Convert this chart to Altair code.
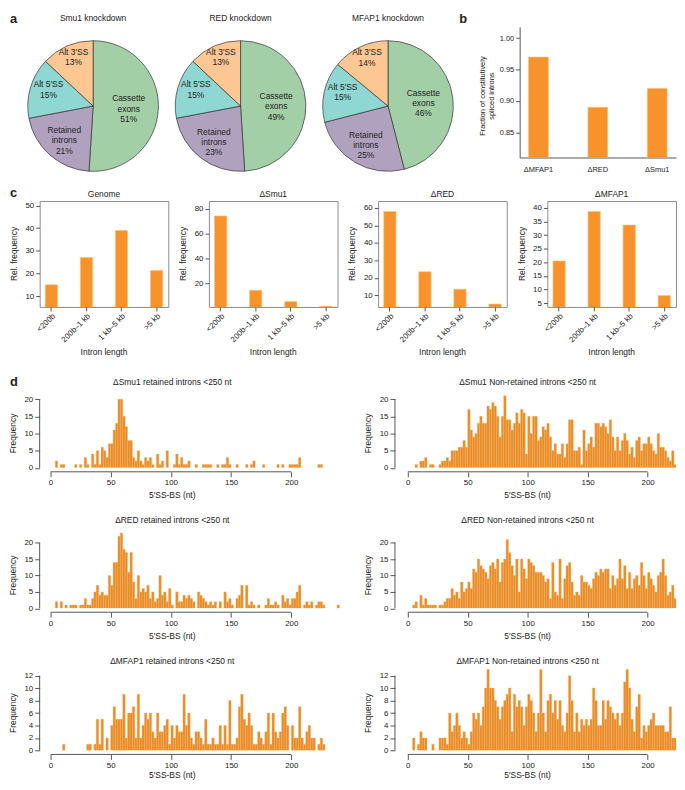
import altair as alt
import pandas as pd

FONT = "Liberation Sans"
BAR = "#F7932A"
BAR_EDGE = "#FBC27E"
HIST = "#E98B27"
HIST_EDGE = "#F4B466"
AX = "#555555"
TXT = "#222222"

# ---------------- panel a: pies ----------------
pie_titles = ["Smu1 knockdown", "RED knockdown", "MFAP1 knockdown"]
pie_cats = ["Cassette exons", "Retained introns", "Alt 5'SS", "Alt 3'SS"]
pie_labels = ["Cassette\nexons", "Retained\nintrons", "Alt 5\u2032SS", "Alt 3\u2032SS"]
pie_vals = [[51, 21, 15, 13], [49, 23, 15, 13], [46, 25, 15, 14]]
pie_colors = ["#A3CFA6", "#B0A2BF", "#8FD7D2", "#FDC794"]
pie_label_r = [36, 44, 47, 50]

# ---------------- panel b ----------------
b_cats = ["\u0394MFAP1", "\u0394RED", "\u0394Smu1"]
b_vals = [0.97, 0.89, 0.92]

# ---------------- panel c ----------------
c_titles = ["Genome", "\u0394Smu1", "\u0394RED", "\u0394MFAP1"]
c_cats = ["<200b", "200b\u20131 kb", "1 kb\u20135 kb", ">5 kb"]
c_vals = [[15, 27, 39, 21.3], [74, 14.5, 5.5, 1.8], [58, 23.5, 13.5, 5], [20.5, 38.7, 33.7, 7.8]]
c_domains = [[5.2, 52], [1.2, 86], [3.3, 64], [3.6, 42.5]]
c_ticks = [[10, 20, 30, 40, 50], [20, 40, 60, 80], [10, 20, 30, 40, 50, 60], [5, 10, 15, 20, 25, 30, 35, 40]]

# ---------------- panel d: histograms (2-nt bins starting 0,2,...,238) ----------------
bins = list(range(0, 240, 2))
smu1_ret = [0, 0, 2, 0, 1, 1, 0, 0, 0, 0,
            1, 0, 1, 0, 3, 1, 0, 4, 1, 5,
            1, 6, 5, 3, 7, 7, 11, 13, 20, 20,
            15, 12, 8, 8, 3, 2, 5, 2, 1, 3,
            2, 3, 1, 0, 4, 1, 2, 0, 5, 0,
            0, 1, 4, 1, 3, 1, 1, 2, 0, 0,
            1, 0, 0, 1, 1, 1, 1, 0, 0, 1,
            0, 1, 1, 3, 1, 0, 0, 1, 0, 0,
            0, 1, 0, 1, 2, 0, 0, 0, 1, 0,
            0, 0, 0, 0, 1, 0, 1, 0, 0, 1,
            1, 1, 1, 3, 0, 0, 0, 0, 0, 0,
            0, 1, 1, 0, 0, 0, 0, 0, 0, 0]
smu1_non = [0, 0, 0, 1, 0, 2, 2, 3, 0, 1,
            1, 0, 0, 1, 2, 2, 3, 2, 5, 5,
            5, 6, 6, 8, 6, 17, 11, 9, 10, 13,
            15, 13, 13, 18, 17, 19, 18, 15, 9, 15,
            21, 14, 14, 11, 13, 16, 13, 17, 16, 4,
            15, 10, 15, 15, 8, 9, 12, 11, 13, 9,
            5, 7, 4, 4, 7, 3, 7, 14, 14, 5,
            5, 6, 1, 11, 5, 7, 9, 6, 13, 13,
            12, 13, 12, 10, 14, 9, 5, 9, 5, 8,
            10, 8, 4, 6, 3, 8, 9, 5, 7, 7,
            9, 7, 5, 4, 10, 6, 6, 5, 3, 2,
            5, 1, 0, 1, 0, 0, 0, 0, 0, 0]
red_ret = [0, 0, 2, 0, 2, 0, 1, 0, 1, 1,
           1, 0, 1, 1, 3, 1, 1, 3, 5, 7,
           4, 5, 4, 4, 10, 7, 14, 14, 22, 23,
           18, 17, 11, 17, 8, 3, 10, 5, 6, 5,
           7, 3, 5, 2, 3, 10, 4, 5, 2, 6,
           1, 0, 5, 2, 2, 4, 3, 4, 3, 2,
           0, 5, 4, 3, 2, 1, 2, 1, 2, 0,
           2, 0, 5, 2, 3, 1, 0, 3, 4, 7,
           0, 7, 1, 2, 1, 0, 1, 0, 0, 1,
           3, 1, 1, 2, 1, 0, 4, 2, 3, 1,
           3, 3, 5, 7, 0, 1, 2, 1, 2, 0,
           1, 2, 2, 1, 0, 0, 0, 0, 0, 1]
red_non = [0, 0, 1, 2, 0, 4, 1, 3, 1, 1,
           1, 1, 0, 1, 1, 2, 3, 3, 6, 4,
           5, 3, 8, 5, 6, 8, 6, 12, 11, 15,
           13, 12, 11, 9, 13, 14, 12, 15, 8, 14,
           15, 21, 17, 13, 10, 15, 5, 15, 12, 9,
           15, 14, 13, 11, 11, 11, 10, 8, 9, 3,
           14, 5, 4, 15, 3, 9, 13, 14, 8, 4,
           5, 4, 10, 8, 8, 7, 6, 9, 11, 10,
           12, 11, 12, 12, 6, 10, 7, 9, 15, 9,
           13, 6, 11, 6, 9, 10, 7, 14, 10, 6,
           11, 9, 7, 5, 10, 11, 15, 10, 4, 5,
           7, 3, 2, 2, 2, 2, 0, 0, 0, 0]
mfap1_ret = [0, 0, 0, 0, 0, 1, 0, 0, 0, 0,
             0, 0, 0, 0, 0, 1, 1, 0, 1, 5,
             1, 5, 0, 2, 0, 4, 7, 5, 5, 5,
             9, 2, 6, 6, 7, 2, 9, 2, 4, 6,
             5, 6, 3, 2, 6, 3, 3, 4, 5, 1,
             4, 2, 4, 3, 3, 9, 4, 6, 2, 1,
             3, 3, 2, 1, 5, 1, 1, 2, 1, 1,
             4, 1, 4, 1, 8, 1, 1, 2, 7, 9,
             5, 4, 6, 4, 1, 1, 3, 2, 1, 3,
             6, 1, 6, 3, 2, 3, 6, 7, 4, 0,
             4, 2, 2, 7, 2, 1, 3, 4, 2, 2,
             0, 1, 2, 1, 0, 0, 0, 0, 0, 0]
mfap1_non = [0, 0, 2, 0, 1, 3, 2, 2, 0, 0,
             1, 0, 0, 2, 2, 2, 1, 6, 3, 4,
             6, 4, 2, 3, 2, 1, 3, 6, 5, 6,
             4, 7, 10, 13, 10, 10, 8, 7, 5, 7,
             8, 9, 10, 3, 9, 7, 8, 7, 4, 7,
             9, 8, 6, 3, 6, 13, 6, 3, 8, 9,
             6, 8, 5, 8, 4, 3, 6, 12, 8, 3,
             6, 3, 5, 4, 5, 4, 5, 10, 8, 4,
             4, 8, 5, 8, 7, 6, 5, 6, 4, 6,
             11, 13, 10, 5, 3, 7, 9, 2, 4, 3,
             4, 5, 6, 4, 4, 4, 4, 3, 3, 7,
             2, 2, 0, 0, 0, 0, 0, 0, 0, 0]

one = pd.DataFrame({"z": [0]})
LEFT_EXT = 31


def txt(s, x, y, size=8.5, angle=0, bold=False, align="center"):
    return alt.Chart(one).mark_text(
        text=s, fontSize=size, angle=angle, fontWeight="bold" if bold else "normal",
        align=align, baseline="middle", color=TXT, lineBreak="\n", font=FONT
    ).encode(x=alt.value(x), y=alt.value(y))


def extent(top, bottom):
    # invisible box fixing a row's layout extent
    return alt.Chart(one).mark_rect(opacity=0).encode(
        x=alt.value(-LEFT_EXT), x2=alt.value(0), y=alt.value(-top), y2=alt.value(bottom))


ROW_A_H = 132
PIE_CX, PIE_CY = 54, 80


def pie(i, w):
    df = pd.DataFrame({
        "cat": pie_cats, "v": pie_vals[i], "o": [0, 1, 2, 3], "r": pie_label_r,
        "lab": [f"{l}\n{v}%" for l, v in zip(pie_labels, pie_vals[i])],
    })
    tscale = alt.Scale(domain=[0, 100])
    arcs = alt.Chart(df).mark_arc(outerRadius=66, stroke="#333333", strokeWidth=0.7).encode(
        theta=alt.Theta("v:Q", stack=True, scale=tscale), order=alt.Order("o:Q"),
        color=alt.Color("cat:N", scale=alt.Scale(domain=pie_cats, range=pie_colors), legend=None),
        x=alt.value(PIE_CX), y=alt.value(PIE_CY))
    labels = alt.Chart(df).transform_window(
        cum="sum(v)", sort=[alt.SortField("o")], frame=[None, 0]
    ).transform_calculate(mid="datum.cum - datum.v / 2").mark_text(
        fontSize=8.5, lineBreak="\n", color=TXT, font=FONT, dy=-9
    ).encode(
        theta=alt.Theta("mid:Q", stack=None, scale=tscale),
        radius=alt.Radius("r:Q", scale=None),
        text="lab:N", x=alt.value(PIE_CX), y=alt.value(PIE_CY))
    layers = [arcs, labels, txt(pie_titles[i], PIE_CX, -9)]
    if i == 0:
        layers.append(txt("a", -30, -8, 13, bold=True, align="left"))
        layers.append(extent(15, ROW_A_H + 16))
    return alt.layer(*layers).properties(width=w, height=ROW_A_H)


def panel_b():
    df = pd.DataFrame({"k": b_cats, "v": b_vals})
    bars = alt.Chart(df).mark_bar(color=BAR, stroke=BAR_EDGE, strokeWidth=0.6, clip=True).encode(
        x=alt.X("k:N", sort=b_cats, scale=alt.Scale(paddingInner=0.667, paddingOuter=0.15),
                axis=alt.Axis(title=None, labelAngle=0, ticks=False, labelPadding=8, labelFontSize=7.5)),
        y=alt.Y("v:Q", scale=alt.Scale(domain=[0.81, 1.018], nice=False, zero=False),
                axis=alt.Axis(title=None, values=[0.85, 0.90, 0.95, 1.00], format=".2f", grid=False,
                              labelFontSize=7.5, tickSize=4, labelOverlap=False)))
    return alt.layer(
        bars,
        txt("Fraction of constitutively\nspliced introns", -37, 70, 7.5, angle=270),
        txt("b", -61, -8, 13, bold=True, align="left"),
    ).properties(width=158, height=ROW_A_H)


ROW_C_H = 107


def panel_c(j):
    df = pd.DataFrame({"k": c_cats, "v": c_vals[j]})
    bars = alt.Chart(df).mark_bar(color=BAR, stroke=BAR_EDGE, strokeWidth=0.6, clip=True).encode(
        x=alt.X("k:N", sort=c_cats, scale=alt.Scale(paddingInner=0.65, paddingOuter=0.16),
                axis=alt.Axis(title=None, labelAngle=-45, domain=False, tickSize=4, labelFontSize=8, labelPadding=1)),
        y=alt.Y("v:Q", scale=alt.Scale(domain=c_domains[j], nice=False, zero=False),
                axis=alt.Axis(title=None, values=c_ticks[j], grid=False, domain=False, tickSize=4,
                              labelFontSize=8, labelOverlap=False)))
    layers = [bars, txt(c_titles[j], 65, -7), txt("Rel. frequency", -26, ROW_C_H / 2, angle=270),
              txt("Intron length", 65, ROW_C_H + 46)]
    if j == 0:
        layers.append(txt("c", -30, -8, 13, bold=True, align="left"))
        layers.append(extent(27, ROW_C_H + 52))
    return alt.layer(*layers).properties(
        width=130, height=ROW_C_H, view=alt.ViewBackground(stroke="#8C8C8C", strokeWidth=1))


def hist(counts, title, h, left, ymaxdom, yticks, ytop, title_y, xt_off, ext=None, lab=None):
    if left:
        xmin, xmax, w = -9, 252.4, 318
    else:
        xmin, xmax, w = -10.7, 223.7, 284
    df = pd.DataFrame({"s": bins, "e": [b + 2 for b in bins], "n": counts, "n0": [0] * len(bins)})
    df = df[df["n"] > 0]
    xs = alt.Scale(domain=[xmin, xmax], nice=False, zero=False)
    ys = alt.Scale(domain=[0, ymaxdom], nice=False)
    ax_x = alt.Axis(title=None, values=[0, 50, 100, 150, 200], domain=False, offset=4, tickSize=5,
                    labelFontSize=8, grid=False, labelOverlap=False)
    ax_y = alt.Axis(title=None, values=yticks, domain=False, tickSize=5, labelFontSize=8, grid=False,
                    labelOverlap=False)
    bars = alt.Chart(df).mark_rect(color=HIST, stroke=HIST_EDGE, strokeWidth=0.4, clip=True).encode(
        x=alt.X("s:Q", scale=xs, axis=ax_x), x2="e:Q",
        y=alt.Y("n:Q", scale=ys, axis=ax_y), y2="n0:Q")
    xline = alt.Chart(pd.DataFrame({"s": [0], "e": [200]})).mark_rule(color=AX, strokeWidth=1).encode(
        x=alt.X("s:Q", scale=xs, axis=ax_x), x2="e:Q", y=alt.value(h + 4))
    yline = alt.Chart(pd.DataFrame({"n": [0], "n0": [ytop]})).mark_rule(color=AX, strokeWidth=1).encode(
        x=alt.value(0), y=alt.Y("n:Q", scale=ys, axis=ax_y), y2="n0:Q")
    pxu = h / ymaxdom
    layers = [bars, xline, yline, txt(title, 134, title_y),
              txt("Frequency", -27, h - ytop / 2 * pxu, angle=270),
              txt("5\u2032SS-BS (nt)", 134, h + xt_off)]
    if lab:
        layers.append(txt(lab, -30, title_y, 13, bold=True, align="left"))
    if ext:
        layers.append(extent(ext[0], h + ext[1]))
    return alt.layer(*layers).properties(width=w, height=h)


y20 = [0, 5, 10, 15, 20]
y12 = [0, 2, 4, 6, 8, 10, 12]

row_a = alt.hconcat(pie(0, 108), pie(1, 108), pie(2, 146), panel_b(), spacing=41, bounds="flush")
row_c = alt.hconcat(*[panel_c(j) for j in range(4)], spacing=41, bounds="flush")
row_d1 = alt.hconcat(
    hist(smu1_ret, "\u0394Smu1 retained introns <250 nt", 74.6, True, 21.5, y20, 20, -12.5, 27.4, (35, 34), "d"),
    hist(smu1_non, "\u0394Smu1 Non-retained introns <250 nt", 74.6, False, 21.5, y20, 20, -12.5, 27.4),
    spacing=41, bounds="flush")
row_d2 = alt.hconcat(
    hist(red_ret, "\u0394RED retained introns <250 nt", 79.5, True, 24, y20, 20, -9.4, 28.5, (27.4, 34)),
    hist(red_non, "\u0394RED Non-retained introns <250 nt", 79.5, False, 24, y20, 20, -9.4, 28.5),
    spacing=41, bounds="flush")
row_d3 = alt.hconcat(
    hist(mfap1_ret, "\u0394MFAP1 retained introns <250 nt", 83.2, True, 13.2, y12, 12, -7.6, 24.5, (25.8, 29.5)),
    hist(mfap1_non, "\u0394MFAP1 Non-retained introns <250 nt", 83.2, False, 13.2, y12, 12, -7.6, 24.5),
    spacing=41, bounds="flush")

chart = alt.vconcat(
    row_a, row_c, row_d1, row_d2, row_d3, spacing=0, bounds="full"
).properties(padding=0, background="white").configure(font=FONT).configure_view(stroke=None).configure_axis(
    labelColor=TXT, tickColor=AX, domainColor=AX, labelFont=FONT, tickWidth=1, labelPadding=2
)

chart.save("out.html", embed_options={"renderer": "svg", "actions": False})
